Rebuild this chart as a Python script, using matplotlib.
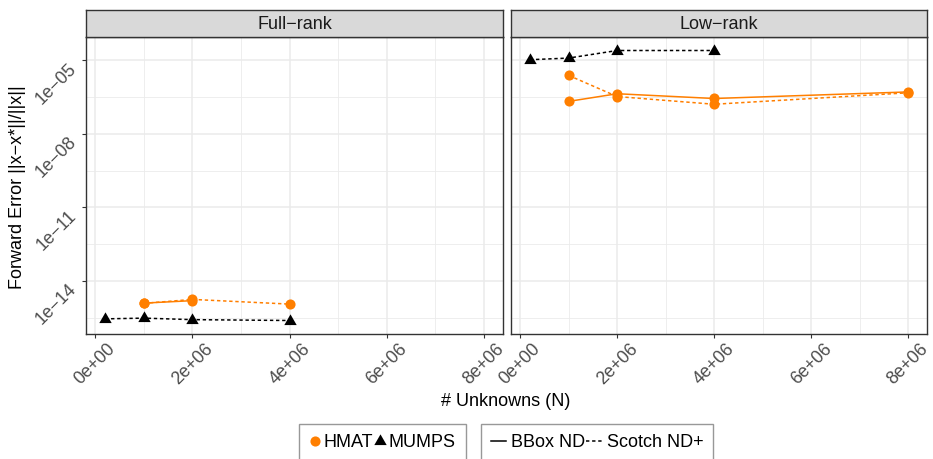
import matplotlib
matplotlib.use("Agg")
import matplotlib.pyplot as plt
import numpy as np
from matplotlib.lines import Line2D
from matplotlib.path import Path
from matplotlib.ticker import FixedLocator, NullFormatter

plt.rcParams['font.family'] = ['Liberation Sans', 'DejaVu Sans']

# ---- data ----
panels = ["Full\u2212rank", "Low\u2212rank"]

# Full-rank
fr_mumps_scotch_x = [0.2e6, 1e6, 2e6, 4e6]
fr_mumps_scotch_y = [2.8e-16, 3.0e-16, 2.6e-16, 2.4e-16]
fr_hmat_bbox_x = [1e6, 2e6]
fr_hmat_bbox_y = [1.23e-15, 1.55e-15]
fr_hmat_scotch_x = [1e6, 2e6, 4e6]
fr_hmat_scotch_y = [1.2e-15, 1.74e-15, 1.12e-15]

# Low-rank
lr_mumps_scotch_x = [0.2e6, 1e6, 2e6, 4e6]
lr_mumps_scotch_y = [1.05e-5, 1.23e-5, 2.5e-5, 2.5e-5]
lr_hmat_bbox_x = [1e6, 2e6, 4e6, 8e6]
lr_hmat_bbox_y = [2.1e-7, 4.3e-7, 2.75e-7, 5.1e-7]
lr_hmat_scotch_x = [1e6, 2e6, 4e6, 8e6]
lr_hmat_scotch_y = [2.4e-6, 3.3e-7, 1.6e-7, 4.7e-7]

x_ticks = [0, 2e6, 4e6, 6e6, 8e6]
x_tick_labels = ["0e+00", "2e+06", "4e+06", "6e+06", "8e+06"]
y_ticks = [1e-5, 1e-8, 1e-11, 1e-14]
y_tick_labels = ["1e\u221205", "1e\u221208", "1e\u221211", "1e\u221214"]

series = [
    # (panel, x, y, solver, ordering)
    (0, fr_mumps_scotch_x, fr_mumps_scotch_y, "MUMPS", "Scotch ND+"),
    (0, fr_hmat_bbox_x, fr_hmat_bbox_y, "HMAT", "BBox ND"),
    (0, fr_hmat_scotch_x, fr_hmat_scotch_y, "HMAT", "Scotch ND+"),
    (1, lr_mumps_scotch_x, lr_mumps_scotch_y, "MUMPS", "Scotch ND+"),
    (1, lr_hmat_bbox_x, lr_hmat_bbox_y, "HMAT", "BBox ND"),
    (1, lr_hmat_scotch_x, lr_hmat_scotch_y, "HMAT", "Scotch ND+"),
]

ORANGE = "#FF7F00"
colors = {"HMAT": ORANGE, "MUMPS": "black"}
tri = Path([(-0.5, -0.2887), (0.5, -0.2887), (0.0, 0.5774), (-0.5, -0.2887)],
           [Path.MOVETO, Path.LINETO, Path.LINETO, Path.CLOSEPOLY])
markers = {"HMAT": ("o", 7.3), "MUMPS": (tri, 10.3)}
DASH = (0, (2.2, 1.8))
styles = {"BBox ND": "-", "Scotch ND+": DASH}

# ---- figure ----
W, H = 933, 459
fig = plt.figure(figsize=(W / 100, H / 100), dpi=100)

def fx(px):
    return px / W

def fy(py):
    return 1 - py / H

panel_px = [(86, 503), (511, 927)]
top_px, bot_px = 37, 334
strip_top = 10

all_x = [v for s in series for v in s[1]]
all_y = np.log10([v for s in series for v in s[2]])
xr = max(all_x) - min(all_x)
xlim = (min(all_x) - 0.05 * xr, max(all_x) + 0.05 * xr)
yr = all_y.max() - all_y.min()
ylim = (10 ** (all_y.min() - 0.05 * yr), 10 ** (all_y.max() + 0.05 * yr))

GREY20 = "#333333"
GREY30 = "#4D4D4D"
axes = []
for i, (l, r) in enumerate(panel_px):
    ax = fig.add_axes([fx(l), fy(bot_px), fx(r) - fx(l), (bot_px - top_px) / H])
    axes.append(ax)
    ax.set_yscale("log")
    ax.set_xlim(*xlim)
    ax.set_ylim(*ylim)
    ax.xaxis.set_major_locator(FixedLocator(x_ticks))
    ax.xaxis.set_minor_locator(FixedLocator([1e6, 3e6, 5e6, 7e6]))
    ax.yaxis.set_major_locator(FixedLocator(y_ticks))
    ax.yaxis.set_minor_locator(FixedLocator([10 ** -3.5, 10 ** -6.5, 10 ** -9.5, 10 ** -12.5, 10 ** -15.5]))
    ax.xaxis.set_minor_formatter(NullFormatter())
    ax.yaxis.set_minor_formatter(NullFormatter())
    ax.grid(which="major", color="#EBEBEB", lw=1.1, zorder=0)
    ax.grid(which="minor", color="#EBEBEB", lw=0.6, zorder=0)
    ax.set_axisbelow(True)
    for sp in ax.spines.values():
        sp.set_color(GREY20)
        sp.set_linewidth(1.0)
    ax.tick_params(which="minor", length=0)
    ax.tick_params(which="major", length=3, width=0.8, color=GREY20, labelcolor=GREY30,
                   labelsize=12.8, pad=1.5)
    ax.set_xticklabels(x_tick_labels, rotation=45, ha="center", va="top")
    if i == 0:
        ax.set_yticklabels(y_tick_labels, rotation=45, ha="right", va="top")
    else:
        ax.tick_params(axis="y", which="both", left=False, labelleft=False)

    # strip
    sax = fig.add_axes([fx(l), fy(top_px), fx(r) - fx(l), (top_px - strip_top) / H])
    sax.set_facecolor("#D9D9D9")
    sax.set_xticks([])
    sax.set_yticks([])
    for sp in sax.spines.values():
        sp.set_color(GREY20)
        sp.set_linewidth(1.0)
    sax.text(0.5, 0.48, panels[i], ha="center", va="center", fontsize=13,
             color="#1A1A1A", transform=sax.transAxes)

for p, x, y, solver, ordering in series:
    m, ms = markers[solver]
    axes[p].plot(x, y, color=colors[solver], linestyle=styles[ordering], lw=1.1,
                 marker=m, markersize=ms, markeredgewidth=0, zorder=3)

# axis titles
fig.text(fx(18), fy(187), "Forward Error ||x\u2212x*||/||x||", rotation=90,
         ha="center", va="center", fontsize=13)
fig.text(fx(506), fy(401), "# Unknowns (N)", ha="center", va="center", fontsize=13)

# legends
h1 = [Line2D([], [], color=ORANGE, marker="o", markersize=7.3, markeredgewidth=0, linestyle="none"),
      Line2D([], [], color="black", marker=tri, markersize=10.3, markeredgewidth=0, linestyle="none")]
h2 = [Line2D([], [], color="black", lw=1.1, linestyle="-"),
      Line2D([], [], color="black", lw=1.1, linestyle=DASH)]
common = dict(ncol=2, fontsize=13, frameon=True, fancybox=False, borderaxespad=0,
              loc="upper left", columnspacing=0.05, borderpad=0.55)
leg1 = fig.legend(h1, ["HMAT", "MUMPS"], bbox_to_anchor=(fx(299), fy(424)),
                  handlelength=0.7, handletextpad=0.12, **common)
leg2 = fig.legend(h2, ["BBox ND", "Scotch ND+"], bbox_to_anchor=(fx(481), fy(424)),
                  handlelength=0.85, handletextpad=0.28, **common)
for lg in (leg1, leg2):
    fr = lg.get_frame()
    fr.set_edgecolor("#7F7F7F")
    fr.set_linewidth(1.0)

fig.savefig("out.png", dpi=100)
